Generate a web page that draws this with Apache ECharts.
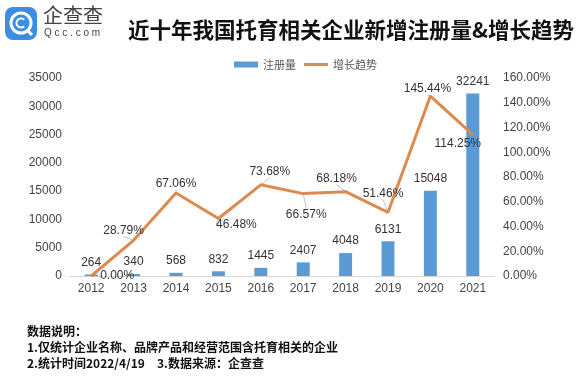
<!DOCTYPE html>
<html>
<head>
<meta charset="utf-8">
<script src="https://cdn.jsdelivr.net/npm/echarts@6/dist/echarts.min.js"></script>
<style>
html,body{margin:0;padding:0;background:#fff;}
#c{width:587px;height:385px;}
</style>
</head>
<body>
<div id="c"></div>
<script>
// ---- data ----
const years = ['2012','2013','2014','2015','2016','2017','2018','2019','2020','2021'];
const registrations = [264, 340, 568, 832, 1445, 2407, 4048, 6131, 15048, 32241];
const growthRate = [0.00, 28.79, 67.06, 46.48, 73.68, 66.57, 68.18, 51.46, 145.44, 114.25];
const leftTicks = [0, 35000, 5000];   // min, max, interval
const rightTicks = [0, 160, 20];      // min, max, interval

const titleText = '近十年我国托育相关企业新增注册量&增长趋势';
const noteLines = ['数据说明：', '1.仅统计企业名称、品牌产品和经营范围含托育相关的企业', '2.统计时间2022/4/19', '3.数据来源：企查查'];

// ---- label displacement styling (pixels) ----
const lineLabelShift = [[26,0],[-10,-10],[0,-9],[18,6],[9,-13],[3,21],[-9,-13],[-5,-19],[-3,-7],[-15,9]];

const FONT = '"Liberation Sans", Arial, "Noto Sans CJK SC", sans-serif';
const CJK = '"Noto Sans CJK SC", sans-serif';
const chart = echarts.init(document.getElementById('c'), null, {renderer:'canvas'});

chart.setOption({
  backgroundColor: '#fff',
  animation: false,
  textStyle: {fontFamily: FONT},
  title: {
    text: titleText,
    left: 346, top: 14, textAlign: 'center',
    textStyle: {fontFamily: CJK, fontSize: 21.5, fontWeight: 'bold', color: '#111'}
  },
  legend: {
    left: 229, top: 54,
    itemWidth: 24, itemHeight: 6, itemGap: 8,
    textStyle: {fontFamily: CJK, fontSize: 11, color: '#555'},
    data: [
      {name: '注册量', icon: 'rect'},
      {name: '增长趋势', icon: 'path://M0,0H24V3H0Z'}
    ]
  },
  grid: {left: 70, right: 93, top: 78, bottom: 109, containLabel: false},
  xAxis: {
    type: 'category', data: years,
    axisLine: {lineStyle: {color: '#d6d6d6', width: 1}},
    axisTick: {show: false},
    axisLabel: {color: '#444', fontSize: 12, margin: 7}
  },
  yAxis: [
    {
      type: 'value', min: leftTicks[0], max: leftTicks[1], interval: leftTicks[2],
      splitLine: {show: false}, axisLine: {show: false}, axisTick: {show: false},
      axisLabel: {color: '#444', fontSize: 12, margin: 8, formatter: v => String(v)}
    },
    {
      type: 'value', min: rightTicks[0], max: rightTicks[1], interval: rightTicks[2],
      splitLine: {show: false}, axisLine: {show: false}, axisTick: {show: false},
      axisLabel: {color: '#444', fontSize: 12, margin: 9, formatter: v => v.toFixed(2) + '%'}
    }
  ],
  series: [
    {
      name: '注册量', type: 'bar', data: registrations, yAxisIndex: 0,
      barWidth: 13,
      itemStyle: {color: '#5B9BD5'},
      label: {show: true, position: 'top', distance: 6, color: '#333', fontSize: 12}
    },
    {
      name: '增长趋势', type: 'line', data: growthRate, yAxisIndex: 1,
      symbol: 'circle', symbolSize: 1, showSymbol: true,
      lineStyle: {color: '#DD8A50', width: 3},
      itemStyle: {color: '#DD8A50'},
      z: 5,
      label: {show: true, position: 'inside', color: '#333', fontSize: 12,
        formatter: p => p.value.toFixed(2) + '%'},
      labelLine: {show: true, lineStyle: {color: '#999', width: 0.6}},
      labelLayout: p => ({dx: lineLabelShift[p.dataIndex][0], dy: lineLabelShift[p.dataIndex][1]})
    }
  ],
  graphic: [
    {type: 'rect', shape: {x: 5, y: 7, width: 32, height: 33, r: 8}, style: {fill: '#3D8EE2'}},
    {type: 'circle', shape: {cx: 21, cy: 23, r: 10}, style: {fill: 'none', stroke: '#fff', lineWidth: 3}},
    {type: 'polyline', shape: {points: [[27, 30], [32, 35]]}, style: {stroke: '#fff', lineWidth: 3}},
    {type: 'arc', shape: {cx: 21, cy: 23, r: 4.5, startAngle: 0.8, endAngle: 5.5}, style: {fill: 'none', stroke: '#fff', lineWidth: 2}},
    {type: 'text', x: 43, y: 5, style: {text: '企查查', font: '20px "Noto Sans CJK SC", sans-serif', fill: '#444'}},
    {type: 'text', x: 44, y: 28, style: {text: 'Q c c . c o m', font: '10px "Liberation Sans", Arial, sans-serif', fill: '#444'}},
    {type: 'text', x: 27, y: 325, style: {text: noteLines[0], font: 'bold 12px "Noto Sans CJK SC", sans-serif', fill: '#111'}},
    {type: 'text', x: 27, y: 341, style: {text: noteLines[1], font: 'bold 12px "Noto Sans CJK SC", sans-serif', fill: '#111'}},
    {type: 'text', x: 27, y: 357, style: {text: noteLines[2], font: 'bold 12px "Noto Sans CJK SC", sans-serif', fill: '#111'}},
    {type: 'text', x: 157, y: 357, style: {text: noteLines[3], font: 'bold 12px "Noto Sans CJK SC", sans-serif', fill: '#111'}}
  ]
});
</script>
</body>
</html>
